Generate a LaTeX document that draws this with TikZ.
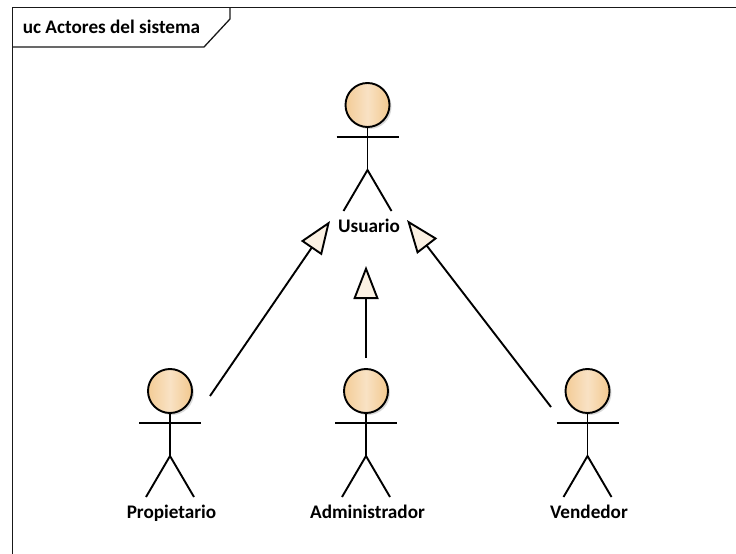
\documentclass[tikz,border=0pt]{standalone}
\usepackage{fontspec}
\setmainfont{Carlito}
\usetikzlibrary{arrows.meta}
\definecolor{headLight}{HTML}{F9E2C4}
\definecolor{headDark}{HTML}{F2C88E}
\definecolor{tipFill}{HTML}{FBF1E3}

\begin{document}
\begin{tikzpicture}
[x=1bp,y=-1bp,
  frameLine/.style={line width=1.3bp,black!90},%
  actorHead/.style={shape=circle,inner sep=0pt,minimum size=44bp,draw,line width=1.9bp,
    left color=headDark!85!headLight,right color=headDark,middle color=headLight},%
  actorLine/.style={line width=1.9bp},%
  actorLabel/.style={font=\fontsize{19.2bp}{22bp}\selectfont\bfseries,inner sep=0pt,anchor=base},%
  genLine/.style={line width=1.9bp,-{Triangle[open,length=33bp,width=25bp,fill=tipFill]}}]
\useasboundingbox (0,0) rectangle (736,554);
%% frame
\draw[frameLine] (12.5,554) -- (12.5,7.5) -- (736,7.5);
\coordinate (tabTop) at (230,7.5);
\coordinate (tabKnee) at (230,19);
\coordinate (tabFoot) at (204,47);
\coordinate (tabLeft) at (12.5,47);
\draw[frameLine] (tabTop) -- (tabKnee) -- (tabFoot) -- (tabLeft);
\node (frameTitle) at (111.5,34) [actorLabel] {uc Actores del sistema};
%% actors
\foreach \nodename/\x/\y/\nodetext in {
  usuario/367.5/105/Usuario, propietario/170/391/Propietario,
  administrador/366/391/Administrador, vendedor/587.5/391/Vendedor}
{
  \fill[black!15] (\x+2,\y+2) circle (22bp);
  \node (\nodename) at (\x,\y) [actorHead] {};
  \coordinate (\nodename Hip) at (\x,\y+65);
  \draw[actorLine] (\nodename.south) -- (\nodename Hip);
  \draw[actorLine] (\x-31,\y+32) -- (\x+31,\y+32);
  \draw[actorLine] (\x-24,\y+106) -- (\nodename Hip) -- (\x+24,\y+106);
  \node (\nodename Label) at (\x+1.5,\y+127.5) [actorLabel] {\nodetext};
}
%% generalisations
\coordinate (usuarioLeft) at (330,221);
\coordinate (usuarioMid) at (366,266);
\coordinate (usuarioRight) at (407,220);
\coordinate (propietarioEnd) at (210,396);
\coordinate (administradorEnd) at (366,358);
\coordinate (vendedorEnd) at (551,407);
\draw[genLine] (propietarioEnd) -- (usuarioLeft);
\draw[genLine] (administradorEnd) -- (usuarioMid);
\draw[genLine] (vendedorEnd) -- (usuarioRight);
\end{tikzpicture}
\end{document}
